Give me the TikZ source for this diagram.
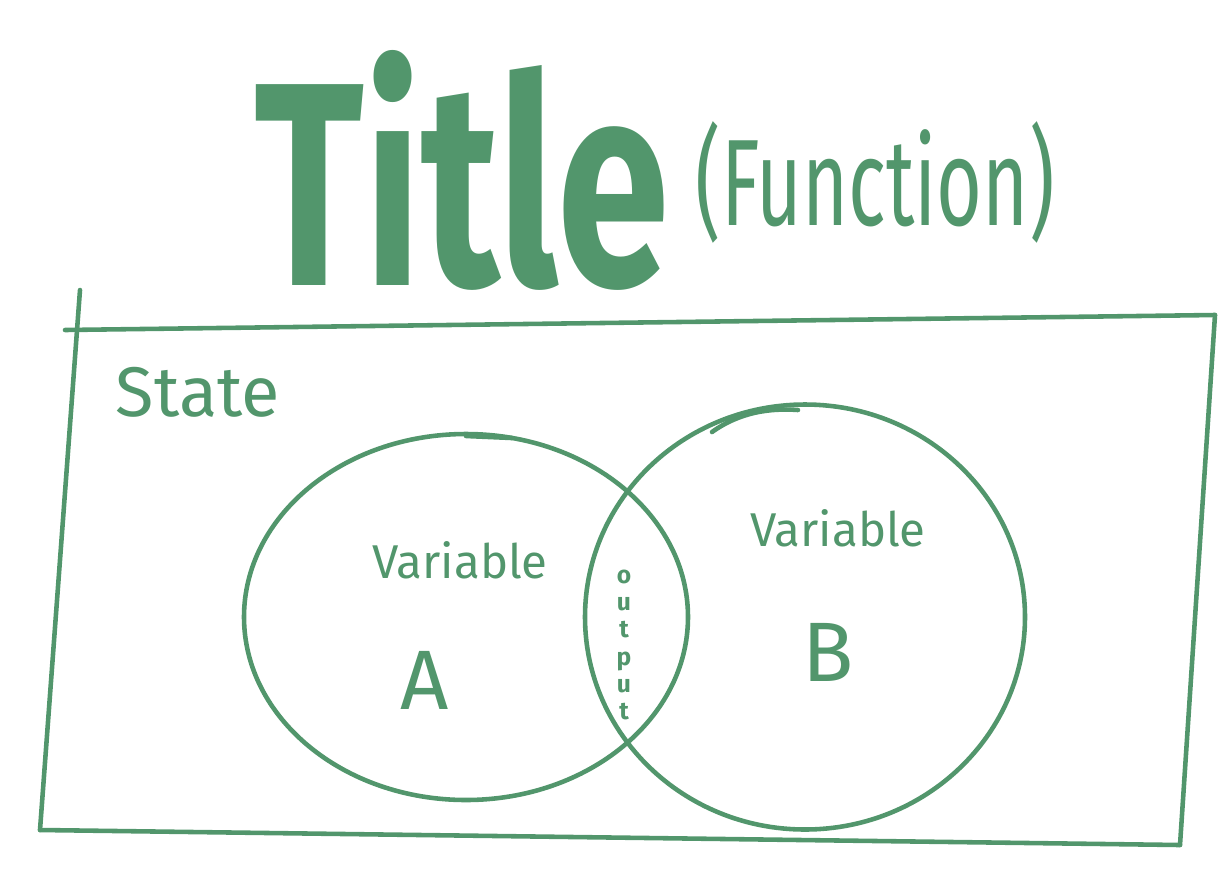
\documentclass[tikz,border=0pt]{standalone}
\definecolor{SketchGreen}{RGB}{82,150,108}
\usepackage{fontspec}
\setmainfont{Fira Sans}
\usepackage{tikz}
\usetikzlibrary{shapes.geometric, positioning}

\begin{document}
\begin{tikzpicture}[x=0.02cm, y=-0.02cm,
    pen/.style={draw=SketchGreen, line width=2.6pt, line cap=round, line join=round},
    hand/.style={text=SketchGreen, inner sep=0pt, font=\fontsize{26}{30}\selectfont}]

    \useasboundingbox (0,0) rectangle (1221,870);

    % Title
    \node[text=SketchGreen, inner sep=0pt, xscale=0.7,
          font=\fontsize{165}{165}\bfseries\selectfont]
          (title) at (462,170) {Title};
    \node[text=SketchGreen, inner sep=0pt, xscale=0.64,
          font=\fontsize{70}{70}\selectfont]
          (func) at (875,182) {(Function)};

    % State frame
    \draw[pen] (80,290) -- (40,830);
    \draw[pen] (65,330) -- (1215,315);
    \draw[pen] (1215,315) -- (1180,845);
    \draw[pen] (40,830) -- (1180,845);
    \node[hand, font=\fontsize{40}{46}\selectfont] (state) at (198,392) {State};

    % Variable A
    \node[pen, ellipse, minimum width=444*0.02cm, minimum height=366*0.02cm]
          (varA) at (466,617) {};
    \draw[pen] (466,436) -- (512,438);
    \node[hand, font=\fontsize{27}{32}\selectfont] (labA) at (460,560) {Variable};
    \node[hand, font=\fontsize{48}{54}\selectfont] (letA) at (425,680) {A};

    % Variable B
    \node[pen, ellipse, minimum width=440*0.02cm, minimum height=425*0.02cm]
          (varB) at (805,617) {};
    \draw[pen] (712,432) .. controls (740,412) and (770,408) .. (798,410);
    \node[hand, font=\fontsize{27}{32}\selectfont] (labB) at (838,528) {Variable};
    \node[hand, font=\fontsize{48}{54}\selectfont] (letB) at (828,652) {B};

    % Overlap
    \node[hand, font=\fontsize{14}{15.5}\bfseries\selectfont, align=center]
          (output) at (624,645) {o\\u\\t\\p\\u\\t};

  \end{tikzpicture}
\end{document}
